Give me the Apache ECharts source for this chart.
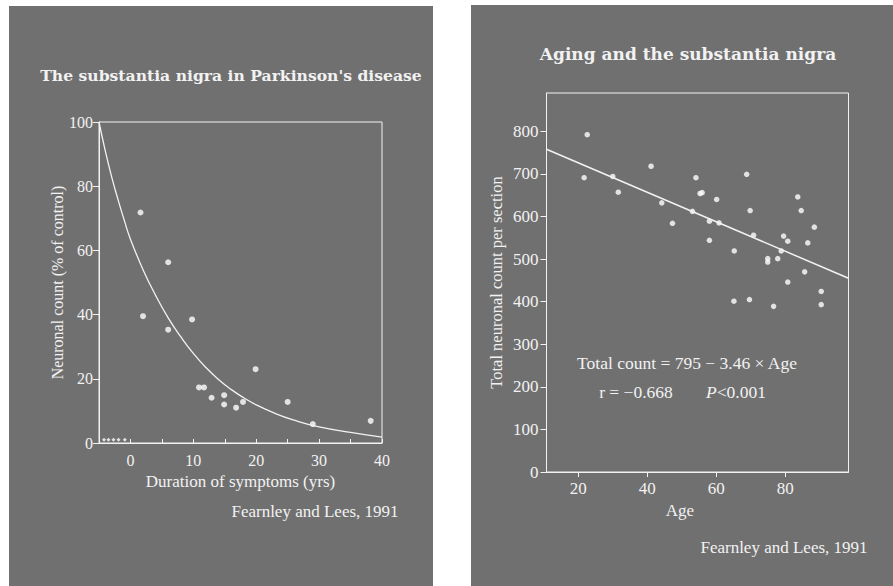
<!DOCTYPE html>
<html>
<head>
<meta charset="utf-8">
<script src="https://cdn.jsdelivr.net/npm/echarts@6.0.0/dist/echarts.min.js"></script>
<style>
html,body{margin:0;padding:0;background:#ffffff;}
#chart{width:893px;height:586px;}
</style>
</head>
<body>
<div id="chart"></div>
<script>
// ---- Left panel: The substantia nigra in Parkinson's disease ----
const pdDuration = [1.6, 2.0, 6.0, 6.0, 9.8, 10.9, 11.7, 12.9, 14.9, 14.9, 16.8, 17.9, 19.9, 25.0, 29.0, 38.2];
const pdCount    = [71.8, 39.5, 56.3, 35.3, 38.5, 17.3, 17.3, 14.1, 14.9, 12.0, 11.0, 12.8, 23.0, 12.8, 5.9, 6.9];
const ctrlX = [-4.2, -3.5, -2.7, -1.9, -0.9];
const ctrlY = [1, 1, 1, 1, 1];
const curveX = [-5, -4, -3, -2, -1, 0, 2, 4, 6, 8, 10, 12, 14, 16, 18, 20, 23, 26, 30, 35, 40];
const curveY = [100, 91, 83, 76, 69.5, 63.5, 54, 46, 39, 33.1, 27.9, 23.5, 19.8, 16.7, 14.1, 11.9, 9.2, 7.1, 5.0, 3.3, 1.8];
const leftXTicks = [-5, 0, 5, 10, 15, 20, 25, 30, 35, 40];
const leftXLabels = [0, 10, 20, 30, 40];
const leftYTicks = [0, 20, 40, 60, 80, 100];

// ---- Right panel: Aging and the substantia nigra ----
const ages   = [22.6, 21.7, 30.0, 31.6, 41.1, 44.2, 47.3, 54.1, 53.1, 55.3, 55.9, 60.1, 58.0, 60.8, 58.0, 65.2, 65.1, 68.8, 69.8, 70.8, 69.6, 74.9, 74.9, 77.8, 76.6, 78.8, 79.5, 80.7, 80.7, 83.6, 84.6, 86.5, 85.6, 88.4, 90.4, 90.4];
const counts = [792, 691, 694, 657, 718, 632, 584, 691, 612, 654, 656, 640, 589, 585, 544, 519, 401, 699, 614, 556, 405, 501, 493, 501, 389, 519, 554, 542, 446, 646, 614, 538, 470, 575, 424, 393];
const fitAge   = [10.8, 98.3];
const fitCount = [758, 455];
const rightXTicks = [20, 40, 60, 80];
const rightYTicks = [0, 100, 200, 300, 400, 500, 600, 700, 800];

const zip = (a, b) => a.map((v, i) => [v, b[i]]);

const WHITE = '#f2f2f2';
const SERIF = '"Liberation Serif", "DejaVu Serif", serif';
const TITLEFONT = '"DejaVu Serif", "Liberation Serif", serif';
const txt = (size) => ({ color: WHITE, fontFamily: SERIF, fontSize: size });

const chart = echarts.init(document.getElementById('chart'), null, { renderer: 'svg' });

chart.setOption({
  backgroundColor: '#ffffff',
  animation: false,
  title: [
    { text: "The substantia nigra in Parkinson's disease", left: 226, top: 62, textAlign: 'center',
      textStyle: { color: WHITE, fontFamily: TITLEFONT, fontWeight: 'bold', fontSize: 15.6 } },
    { text: 'Aging and the substantia nigra', left: 683, top: 40, textAlign: 'center',
      textStyle: { color: WHITE, fontFamily: TITLEFONT, fontWeight: 'bold', fontSize: 17 } }
  ],
  graphic: [
    { type: 'rect', z: -10, shape: { x: 9, y: 6, width: 424, height: 590 }, style: { fill: '#707070' } },
    { type: 'rect', z: -10, shape: { x: 471, y: 5, width: 430, height: 590 }, style: { fill: '#707070' } },
    { type: 'text', x: 315, y: 511, style: { text: 'Fearnley and Lees, 1991', fill: WHITE, font: '17px ' + SERIF, textAlign: 'center', textVerticalAlign: 'middle' } },
    { type: 'text', x: 784, y: 547, style: { text: 'Fearnley and Lees, 1991', fill: WHITE, font: '17px ' + SERIF, textAlign: 'center', textVerticalAlign: 'middle' } },
    { type: 'text', x: 687, y: 363, style: { text: 'Total count = 795 \u2212 3.46 \u00d7 Age', fill: WHITE, font: '17.5px ' + SERIF, textAlign: 'center', textVerticalAlign: 'middle' } },
    { type: 'text', x: 636, y: 392, style: { text: 'r = \u22120.668', fill: WHITE, font: '17.5px ' + SERIF, textAlign: 'center', textVerticalAlign: 'middle' } },
    { type: 'text', x: 736, y: 392, style: { text: '{i|P}<0.001', fill: WHITE, font: '17.5px ' + SERIF, textAlign: 'center', textVerticalAlign: 'middle',
      rich: { i: { fontStyle: 'italic', fontFamily: SERIF, fontSize: 17.5, fill: WHITE } } } }
  ],
  grid: [
    { left: 99, top: 122, width: 283, height: 321, show: true, borderColor: WHITE, borderWidth: 1, backgroundColor: 'transparent' },
    { left: 546.5, top: 93, width: 302, height: 379, show: true, borderColor: WHITE, borderWidth: 1, backgroundColor: 'transparent' }
  ],
  xAxis: [
    { gridIndex: 0, type: 'value', min: -5, max: 40,
      name: 'Duration of symptoms (yrs)', nameLocation: 'middle', nameGap: 30, nameTextStyle: txt(17),
      axisLine: { onZero: false, lineStyle: { color: WHITE, width: 1 } },
      axisTick: { inside: true, length: 4, lineStyle: { color: WHITE }, customValues: leftXTicks },
      axisLabel: { ...txt(16), margin: 9, customValues: leftXLabels },
      splitLine: { show: false } },
    { gridIndex: 1, type: 'value', min: 10.8, max: 98.3,
      name: 'Age', nameLocation: 'middle', nameGap: 25,
      nameTextStyle: { ...txt(17), padding: [0, 35, 0, 0] },
      axisLine: { onZero: false, lineStyle: { color: WHITE, width: 1 } },
      axisTick: { length: 5, lineStyle: { color: WHITE }, customValues: rightXTicks },
      axisLabel: { ...txt(17), margin: 8, customValues: rightXTicks },
      splitLine: { show: false } }
  ],
  yAxis: [
    { gridIndex: 0, type: 'value', min: 0, max: 100,
      name: 'Neuronal count (% of control)', nameLocation: 'middle', nameGap: 33, nameRotate: 90, nameTextStyle: txt(16),
      axisLine: { show: true, onZero: false, lineStyle: { color: WHITE, width: 1 } },
      axisTick: { show: true, length: 6, lineStyle: { color: WHITE }, customValues: leftYTicks },
      axisLabel: { ...txt(16), margin: 6, customValues: leftYTicks },
      splitLine: { show: false } },
    { gridIndex: 1, type: 'value', min: 0, max: 890,
      name: 'Total neuronal count per section', nameLocation: 'middle', nameGap: 42, nameRotate: 90, nameTextStyle: txt(16.5),
      axisLine: { show: true, onZero: false, lineStyle: { color: WHITE, width: 1 } },
      axisTick: { show: true, length: 6, lineStyle: { color: WHITE }, customValues: rightYTicks },
      axisLabel: { ...txt(17), margin: 8, customValues: rightYTicks },
      splitLine: { show: false } }
  ],
  series: [
    { type: 'line', xAxisIndex: 0, yAxisIndex: 0, data: zip(curveX, curveY), smooth: 0.5, showSymbol: false,
      lineStyle: { color: WHITE, width: 1.3 }, clip: true },
    { type: 'scatter', xAxisIndex: 0, yAxisIndex: 0, data: zip(pdDuration, pdCount), symbolSize: 6,
      itemStyle: { color: '#ffffff' } },
    { type: 'scatter', xAxisIndex: 0, yAxisIndex: 0, data: zip(ctrlX, ctrlY), symbol: 'diamond', symbolSize: 4,
      itemStyle: { color: '#ffffff' } },
    { type: 'line', xAxisIndex: 1, yAxisIndex: 1, data: zip(fitAge, fitCount), showSymbol: false,
      lineStyle: { color: WHITE, width: 1.5 } },
    { type: 'scatter', xAxisIndex: 1, yAxisIndex: 1, data: zip(ages, counts), symbolSize: 5.5,
      itemStyle: { color: '#ffffff' } }
  ]
});
</script>
</body>
</html>
